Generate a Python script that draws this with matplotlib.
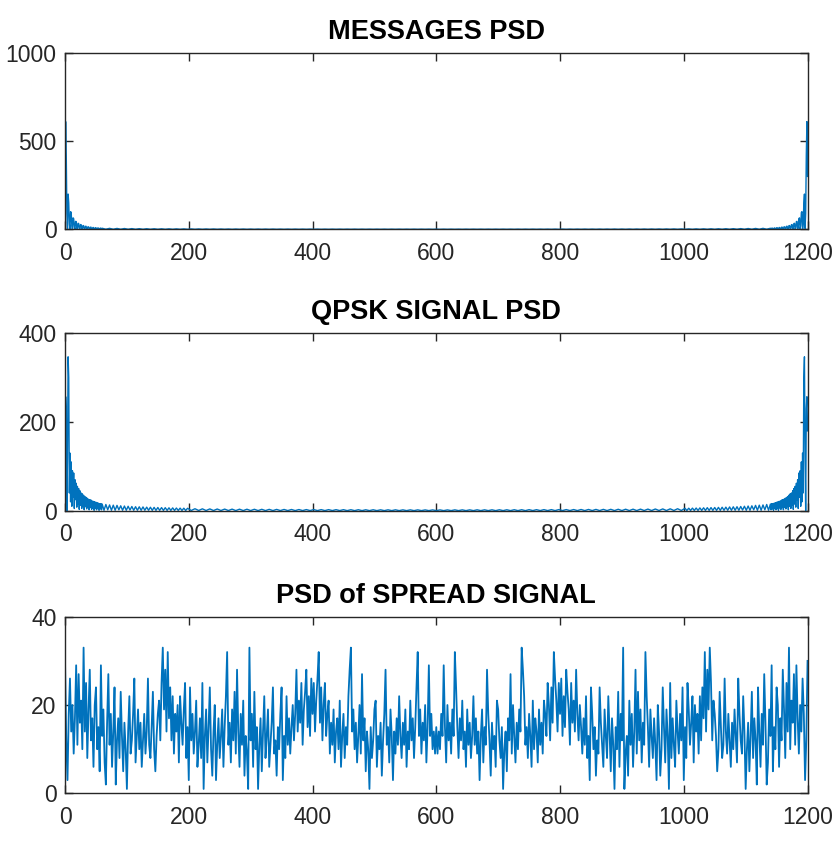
import numpy as np
import matplotlib
matplotlib.use('Agg')
import matplotlib.pyplot as plt

plt.rcParams['font.family'] = ['Liberation Sans', 'DejaVu Sans']

# Data (left half; each PSD is symmetric about bin 600)
titles = ['MESSAGES PSD', 'QPSK SIGNAL PSD', 'PSD of SPREAD SIGNAL']
xticks = [0, 200, 400, 600, 800, 1000, 1200]
yticks = [[0, 500, 1000], [0, 200, 400], [0, 20, 40]]

msg_head_x = list(range(0, 60))
msg_head = [300, 611, 420, 90, 5, 200, 150, 30, 2, 100,
            95, 20, 1, 65, 60, 12, 1, 45, 44, 8,
            1, 34, 33, 6, 1, 27, 26, 5, 1, 21,
            21, 4, 1, 17, 17, 3, 1, 14, 14, 3,
            0.5, 12, 12, 2, 0.5, 10, 10, 2, 0.5, 9,
            9, 2, 0.5, 8, 7, 1.5, 0.5, 7, 6, 1.5]
msg_tail_x = list(range(60, 601, 6))
msg_tail = [6, 0.5, 5.5, 0.4, 5, 0.4, 4.5, 0.3, 4, 0.3,
            3.6, 0.3, 3.3, 0.3, 3, 0.2, 2.8, 0.2, 2.6, 0.2,
            2.4, 0.2, 2.2, 0.2, 2.1, 0.2, 2, 0.2, 1.9, 0.2,
            1.8, 0.2, 1.7, 0.2, 1.6, 0.1, 1.5, 0.1, 1.5, 0.1,
            1.4, 0.1, 1.4, 0.1, 1.3, 0.1, 1.3, 0.1, 1.2, 0.1,
            1.2, 0.1, 1.2, 0.1, 1.1, 0.1, 1.1, 0.1, 1.1, 0.1,
            1.0, 0.1, 1.0, 0.1, 1.0, 0.1, 1.0, 0.1, 1.0, 0.1,
            0.9, 0.1, 0.9, 0.1, 0.9, 0.1, 0.9, 0.1, 0.9, 0.1,
            0.9, 0.1, 0.9, 0.1, 0.9, 0.1, 0.9, 0.1, 0.9, 0.1,
            0.9]

qpsk_head_x = list(range(0, 60))
qpsk_head = [180, 257, 230, 0, 120, 347, 300, 40, 130, 20,
             110, 10, 90, 30, 85, 5, 70, 25, 62, 8,
             55, 15, 50, 3, 45, 12, 40, 5, 38, 10,
             35, 2, 32, 9, 30, 4, 28, 8, 26, 2,
             25, 7, 24, 3, 22, 6, 21, 1, 20, 5,
             19, 2, 18, 5, 17, 1, 16, 4, 16, 2]
qpsk_mid_x = list(range(60, 199, 3))
qpsk_mid = [15, 1, 14, 2, 13, 1, 12.5, 1, 12, 2,
            11, 1, 10.5, 1, 10, 1.5, 9.5, 1, 9, 1,
            8.8, 1, 8.5, 1, 8, 1, 7.8, 0.8, 7.5, 0.8,
            7.2, 0.8, 7, 0.7, 6.8, 0.7, 6.5, 0.7, 6.3, 0.6,
            6, 0.6, 5.8, 0.6, 5.6, 0.5, 5.4]
qpsk_tail_x = list(range(204, 601, 6))
qpsk_tail = [0.5, 4.4, 0.5, 4.2, 0.4, 4.0, 0.4, 3.8, 0.4, 3.6,
             0.4, 3.5, 0.3, 3.4, 0.3, 3.3, 0.3, 3.2, 0.3, 3.1,
             0.3, 3.0, 0.3, 2.9, 0.3, 2.8, 0.3, 2.7, 0.3, 2.6,
             0.3, 2.5, 0.3, 2.5, 0.3, 2.4, 0.3, 2.4, 0.3, 2.3,
             0.3, 2.3, 0.2, 2.2, 0.2, 2.2, 0.2, 2.1, 0.2, 2.1,
             0.2, 2.0, 0.2, 2.0, 0.2, 2.0, 0.2, 1.9, 0.2, 1.9,
             0.2, 1.9, 0.2, 1.8, 0.2, 1.8, 0.2]

spread_x = list(range(0, 601, 2))
spread = [30, 12, 3, 18, 26, 14, 20, 9, 17, 29,
          11, 27, 16, 21, 10, 33, 14, 25, 8, 19,
          28, 12, 17, 6, 20, 24, 10, 15, 5, 29,
          13, 19, 7, 2, 16, 27, 11, 18, 6, 14,
          24, 2, 12, 17, 8, 23, 13, 5, 16, 10,
          1, 14, 22, 9, 12, 18, 26, 7, 13, 19,
          10, 16, 6, 12, 18, 9, 14, 26, 11, 8,
          15, 23, 10, 5, 13, 18, 21, 12, 25, 33,
          19, 28, 14, 32, 17, 24, 12, 22, 9, 18,
          14, 20, 7, 22, 16, 11, 19, 25, 8, 15,
          3, 24, 12, 18, 9, 14, 21, 6, 11, 17,
          8, 25, 1, 13, 19, 7, 15, 24, 10, 4,
          14, 20, 3, 11, 17, 8, 13, 19, 6, 15,
          22, 32, 11, 16, 7, 19, 12, 23, 9, 28,
          14, 6, 18, 11, 21, 4, 13, 9, 1, 33,
          12, 18, 6, 23, 10, 15, 1, 11, 17, 5,
          14, 22, 8, 13, 19, 6, 11, 16, 24, 9,
          12, 4, 15, 10, 18, 24, 3, 13, 8, 22,
          11, 17, 9, 15, 20, 12, 18, 28, 14, 21,
          16, 25, 11, 19, 23, 28, 15, 22, 13, 26,
          18, 25, 14, 21, 26, 32, 16, 24, 12, 20,
          25, 13, 18, 21, 9, 16, 11, 19, 7, 14,
          17, 10, 21, 6, 13, 18, 8, 15, 11, 22,
          28, 33, 14, 19, 10, 16, 7, 13, 20, 9,
          27, 12, 17, 5, 14, 10, 1, 15, 8, 12,
          19, 21, 6, 13, 10, 16, 4, 12, 18, 28,
          11, 15, 7, 19, 13, 3, 14, 9, 17, 11,
          22, 13, 8, 16, 11, 19, 6, 14, 10, 21,
          12, 17, 8, 15, 24, 32, 13, 19, 9, 16,
          12, 20, 7, 15, 29, 13, 18, 10, 14, 9,
          15]


def mirror(x, y):
    # right half is the mirror image of the left half about bin 600
    x = np.asarray(x, dtype=float)
    y = np.asarray(y, dtype=float)
    return (np.concatenate([x, 1200 - x[::-1][1:]]),
            np.concatenate([y, y[::-1][1:]]))


series = [
    mirror(msg_head_x + msg_tail_x, msg_head + msg_tail),
    mirror(qpsk_head_x + qpsk_mid_x + qpsk_tail_x, qpsk_head + qpsk_mid + qpsk_tail),
    mirror(spread_x, spread),
]
widths = [1.0, 1.0, 1.3]

fig = plt.figure(figsize=(8.39, 8.44), dpi=100)
boxes = [[0.0775, 0.7283, 0.885, 0.2089],
         [0.0775, 0.3949, 0.885, 0.2102],
         [0.0775, 0.0600, 0.885, 0.2093]]

for i in range(3):
    ax = fig.add_axes(boxes[i])
    x, y = series[i]
    ax.plot(x, y, color='#0072BD', lw=widths[i])
    ax.set_xlim(0, 1200)
    ax.set_ylim(yticks[i][0], yticks[i][-1])
    ax.set_xticks(xticks)
    ax.set_yticks(yticks[i])
    ax.tick_params(direction='in', top=True, right=True, length=6, width=1.0,
                   color='#262626', labelcolor='#262626', labelsize=16.5)
    ax.tick_params(axis='x', pad=9)
    ax.tick_params(axis='y', pad=6)
    for s in ax.spines.values():
        s.set_color('#262626')
        s.set_linewidth(1.0)
    ax.set_title(titles[i], fontsize=19.5, fontweight='bold', pad=10)

plt.savefig('out.png', dpi=100)
